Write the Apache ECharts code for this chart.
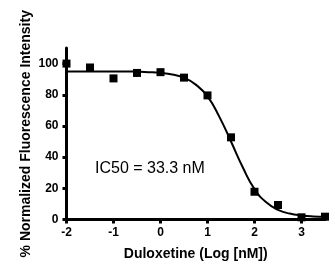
<!DOCTYPE html>
<html>
<head>
<meta charset="utf-8">
<script src="https://cdn.jsdelivr.net/npm/echarts@6/dist/echarts.min.js"></script>
<style>
html, body { margin: 0; padding: 0; background: #fff; }
#chart { width: 335px; height: 268px; }
</style>
</head>
<body>
<div id="chart"></div>
<script>
// measured points (log nM, % intensity)
var doseLog = [-2, -1.5, -1, -0.5, 0, 0.5, 1, 1.5, 2, 2.5, 3, 3.5];
var intensity = [100, 97.5, 90.5, 94, 94.5, 91, 79.6, 52.7, 17.8, 9.3, 1.4, 1.8];

// fitted curve
var curveX = [-2, -1.75, -1.5, -1.25, -1, -0.75, -0.5, -0.25, 0, 0.25, 0.5, 0.75, 1,
    1.25, 1.5, 1.75, 2, 2.25, 2.5, 2.75, 3, 3.25, 3.5];
var curveY = [95, 95, 95, 95, 95, 95, 94.8, 94.5, 94, 93, 91, 86.5, 79,
    66, 50, 33.5, 19.5, 11, 6.2, 3.8, 2.6, 2, 1.8];

var xTicks = [-2, -1, 0, 1, 2, 3];
var yTicks = [0, 20, 40, 60, 80, 100];

var chart = echarts.init(document.getElementById('chart'));

var labelFont = {
    color: '#000',
    fontFamily: 'Liberation Sans',
    fontWeight: 'bold',
    fontSize: 12
};
var nameFont = {
    color: '#000',
    fontFamily: 'Liberation Sans',
    fontWeight: 'bold',
    fontSize: 14
};

var option = {
    animation: false,
    grid: {
        left: 66.5,
        right: 10,
        top: 48,
        bottom: 48.5,
        containLabel: false,
        outerBoundsMode: 'none'
    },
    xAxis: {
        type: 'value',
        min: -2,
        max: 3.5,
        name: 'Duloxetine (Log [nM])',
        nameLocation: 'middle',
        nameGap: 28,
        nameTextStyle: nameFont,
        axisLine: { onZero: false, lineStyle: { color: '#000', width: 3 } },
        axisTick: { customValues: xTicks, length: 4, lineStyle: { color: '#000', width: 3 } },
        axisLabel: Object.assign({ customValues: xTicks, margin: 7 }, labelFont),
        splitLine: { show: false }
    },
    yAxis: {
        type: 'value',
        min: 0,
        max: 110,
        name: '% Normalized Fluorescence Intensity',
        nameLocation: 'middle',
        nameGap: 33.5,
        nameMoveOverlap: false,
        nameTextStyle: nameFont,
        axisLine: { show: true, onZero: false, lineStyle: { color: '#000', width: 3 } },
        axisTick: { show: true, customValues: yTicks, length: 4, lineStyle: { color: '#000', width: 3 } },
        axisLabel: Object.assign({ customValues: yTicks, margin: 8 }, labelFont),
        splitLine: { show: false }
    },
    graphic: [{
        type: 'text',
        left: 95,
        top: 161,
        style: {
            text: 'IC50 = 33.3 nM',
            fill: '#000',
            font: '16px "Liberation Sans"'
        }
    }],
    series: [{
        type: 'line',
        data: curveX.map(function (x, i) { return [x, curveY[i]]; }),
        smooth: true,
        symbol: 'none',
        clip: false,
        lineStyle: { color: '#000', width: 2 }
    }, {
        type: 'scatter',
        data: doseLog.map(function (x, i) { return [x, intensity[i]]; }),
        symbol: 'rect',
        symbolSize: 8,
        clip: false,
        itemStyle: { color: '#000', opacity: 1 },
        z: 3
    }]
};

chart.setOption(option);
</script>
</body>
</html>
